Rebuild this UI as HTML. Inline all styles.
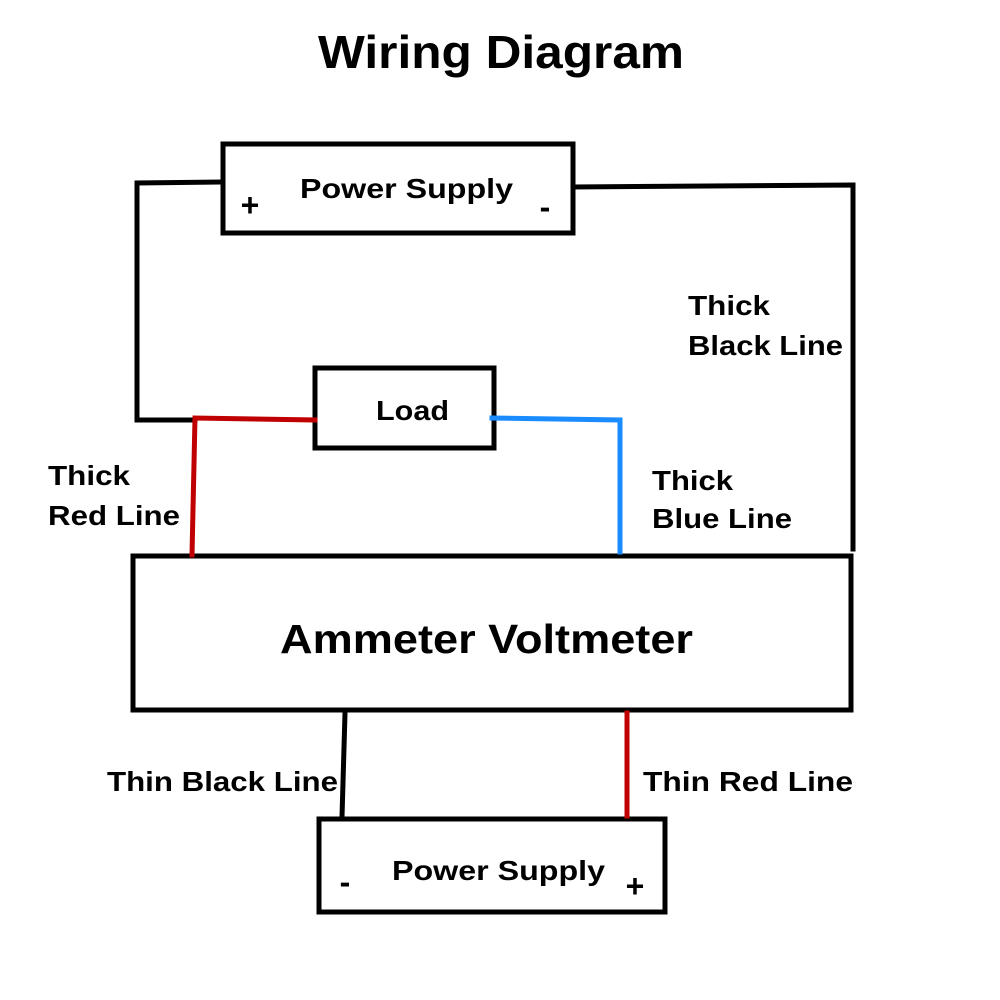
<!DOCTYPE html>
<html><head><meta charset="utf-8"><style>
html,body{margin:0;padding:0;background:#fff;}
svg{display:block}
text{font-family:"Liberation Sans","DejaVu Sans",sans-serif;font-weight:bold;fill:#000}
</style></head><body>
<svg width="1000" height="1000" viewBox="0 0 1000 1000" xmlns="http://www.w3.org/2000/svg">
<rect width="1000" height="1000" fill="#fff"/>
<text x="318" y="68" font-size="46" textLength="366" lengthAdjust="spacingAndGlyphs">Wiring Diagram</text>

<g fill="none" stroke-width="5" stroke-linecap="square" stroke-linejoin="miter">
<rect x="223" y="144" width="350" height="89" stroke="#000"/>
<rect x="315" y="368" width="179" height="80" stroke="#000"/>
<rect x="133" y="556" width="718" height="154" stroke="#000"/>
<rect x="319" y="819" width="346" height="93" stroke="#000"/>
<polyline points="221,182 137,183 137,420 195,420" stroke="#000"/>
<polyline points="573,187 853,185 853,549" stroke="#000"/>
<polyline points="315,420 195,418 192,555" stroke="#c00000"/>
<polyline points="492,418 620,420 620,552" stroke="#1a8cff"/>
<line x1="345" y1="713" x2="342" y2="817" stroke="#000"/>
<line x1="627" y1="713" x2="627" y2="816" stroke="#c00000"/>
</g>

<text x="250" y="216" font-size="32" text-anchor="middle">+</text>
<text x="300" y="198" font-size="28" textLength="213" lengthAdjust="spacingAndGlyphs">Power Supply</text>
<text x="545" y="218" font-size="32" text-anchor="middle">-</text>
<text x="376" y="420" font-size="28" textLength="73" lengthAdjust="spacingAndGlyphs">Load</text>
<text x="280" y="653" font-size="41" textLength="413" lengthAdjust="spacingAndGlyphs">Ammeter Voltmeter</text>
<text x="345" y="893" font-size="32" text-anchor="middle">-</text>
<text x="392" y="880" font-size="28" textLength="213" lengthAdjust="spacingAndGlyphs">Power Supply</text>
<text x="635" y="897" font-size="32" text-anchor="middle">+</text>

<text x="688" y="315" font-size="28" textLength="82" lengthAdjust="spacingAndGlyphs">Thick</text>
<text x="688" y="355" font-size="28" textLength="155" lengthAdjust="spacingAndGlyphs">Black Line</text>
<text x="48" y="485" font-size="28" textLength="82" lengthAdjust="spacingAndGlyphs">Thick</text>
<text x="48" y="525" font-size="28" textLength="132" lengthAdjust="spacingAndGlyphs">Red Line</text>
<text x="652" y="490" font-size="28" textLength="81" lengthAdjust="spacingAndGlyphs">Thick</text>
<text x="652" y="528" font-size="28" textLength="140" lengthAdjust="spacingAndGlyphs">Blue Line</text>
<text x="107" y="791" font-size="28" textLength="231" lengthAdjust="spacingAndGlyphs">Thin Black Line</text>
<text x="643" y="791" font-size="28" textLength="210" lengthAdjust="spacingAndGlyphs">Thin Red Line</text>
</svg>
</body></html>
